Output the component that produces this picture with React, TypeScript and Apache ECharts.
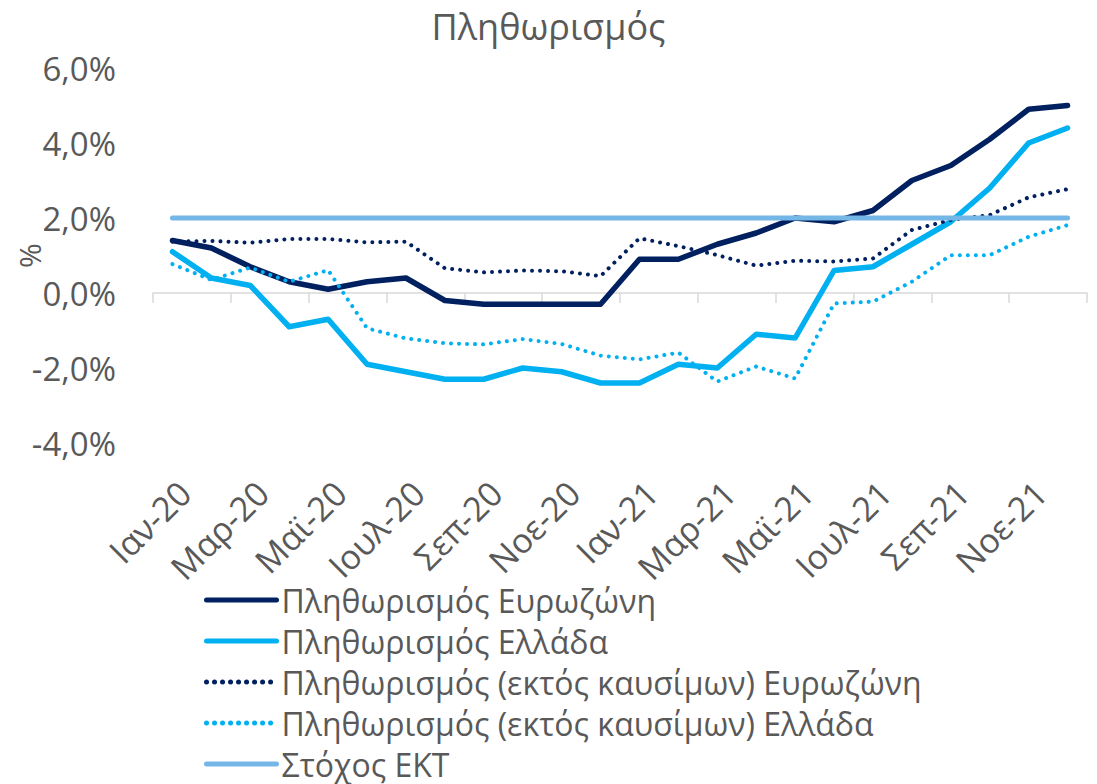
import React, { useEffect, useRef } from "react";
import * as echarts from "echarts";

const months = ["Ιαν", "Φεβ", "Μαρ", "Απρ", "Μαϊ", "Ιουν", "Ιουλ", "Αυγ", "Σεπ", "Οκτ", "Νοε", "Δεκ"];
const categories = [...months.map((m) => m + "-20"), ...months.map((m) => m + "-21")];

const inflationEZ = [1.4, 1.2, 0.7, 0.3, 0.1, 0.3, 0.4, -0.2, -0.3, -0.3, -0.3, -0.3, 0.9, 0.9, 1.3, 1.6, 2.0, 1.9, 2.2, 3.0, 3.4, 4.1, 4.9, 5.0];
const inflationGR = [1.1, 0.4, 0.2, -0.9, -0.7, -1.9, -2.1, -2.3, -2.3, -2.0, -2.1, -2.4, -2.4, -1.9, -2.0, -1.1, -1.2, 0.6, 0.7, 1.3, 1.9, 2.8, 4.0, 4.4];
const exFuelEZ = [1.37, 1.39, 1.34, 1.44, 1.44, 1.35, 1.37, 0.66, 0.55, 0.6, 0.58, 0.45, 1.46, 1.25, 1.01, 0.73, 0.86, 0.84, 0.92, 1.68, 1.95, 2.08, 2.55, 2.77];
const exFuelGR = [0.77, 0.35, 0.68, 0.3, 0.61, -0.94, -1.21, -1.34, -1.37, -1.23, -1.36, -1.67, -1.77, -1.59, -2.36, -1.96, -2.28, -0.28, -0.23, 0.3, 1.01, 1.01, 1.5, 1.81];
const ecbTarget = [2.0, 2.0, 2.0, 2.0, 2.0, 2.0, 2.0, 2.0, 2.0, 2.0, 2.0, 2.0, 2.0, 2.0, 2.0, 2.0, 2.0, 2.0, 2.0, 2.0, 2.0, 2.0, 2.0, 2.0];

const seriesNames = [
  "Πληθωρισμός Ευρωζώνη",
  "Πληθωρισμός Ελλάδα",
  "Πληθωρισμός (εκτός καυσίμων) Ευρωζώνη",
  "Πληθωρισμός (εκτός καυσίμων) Ελλάδα",
  "Στόχος ΕΚΤ",
];

const FONT = "'Open Sans', sans-serif";
const TXT = "#595959";
const NAVY = "#002060";
const CYAN = "#00B0F0";
const TARGET = "#74B6E6";

export default function App() {
  const ref = useRef<HTMLDivElement>(null);
  useEffect(() => {
    if (!ref.current) return;
    const chart = echarts.init(ref.current, undefined, { renderer: "svg" });
    const dotted = [0.01, 8];
    const mk = (name: string, data: number[], color: string, width: number, type: any) => ({
      name,
      type: "line",
      data,
      symbol: "none",
      showSymbol: false,
      xAxisIndex: 0,
      lineStyle: { color, width, type, cap: "round", join: "round" },
      itemStyle: { color },
      emphasis: { disabled: true },
    });
    chart.setOption({
      animation: false,
      backgroundColor: "#ffffff",
      title: {
        text: "Πληθωρισμός",
        left: "center",
        top: 3,
        textStyle: { fontFamily: FONT, fontSize: 36, fontWeight: "normal", color: TXT },
      },
      grid: { left: 153, right: 10, top: 68, bottom: 341, containLabel: false, outerBoundsMode: "none" },
      legend: {
        orient: "vertical",
        left: 199,
        top: 579,
        height: 260,
        itemWidth: 70,
        itemHeight: 14,
        itemGap: 9,
        data: seriesNames,
        selectedMode: false,
        textStyle: { fontFamily: FONT, fontSize: 32, color: TXT },
        lineStyle: { width: 5 },
        itemStyle: { color: "rgba(0,0,0,0)", opacity: 0, borderWidth: 0 },
      },
      xAxis: [
        {
          type: "category",
          data: categories,
          boundaryGap: true,
          axisLine: { onZero: true, lineStyle: { color: "#D9D9D9", width: 1.5 } },
          axisTick: { show: true, interval: 1, length: 10, lineStyle: { color: "#D9D9D9", width: 1.5 } },
          axisLabel: { show: false },
          splitLine: { show: false },
        },
        {
          type: "category",
          data: categories,
          boundaryGap: true,
          position: "bottom",
          axisLine: { show: false, onZero: false },
          axisTick: { show: false },
          axisLabel: {
            interval: 1,
            rotate: 45,
            margin: 32,
            verticalAlign: "top",
            align: "right",
            fontFamily: FONT,
            fontSize: 34,
            color: TXT,
          },
        },
      ],
      yAxis: {
        type: "value",
        min: -4,
        max: 6,
        interval: 2,
        name: "%",
        nameLocation: "middle",
        nameRotate: 90,
        nameGap: 109,
        nameMoveOverlap: false,
        nameTextStyle: { fontFamily: FONT, fontSize: 30, color: TXT },
        axisLine: { show: false },
        axisTick: { show: false },
        splitLine: { show: false },
        axisLabel: {
          margin: 37,
          fontFamily: FONT,
          fontSize: 33,
          color: TXT,
          formatter: (v: number) => v.toFixed(1).replace(".", ",") + "%",
        },
      },
      series: [
        mk(seriesNames[0], inflationEZ, NAVY, 5.5, "solid"),
        mk(seriesNames[1], inflationGR, CYAN, 5.5, "solid"),
        mk(seriesNames[2], exFuelEZ, NAVY, 4, dotted),
        mk(seriesNames[3], exFuelGR, CYAN, 4, dotted),
        mk(seriesNames[4], ecbTarget, TARGET, 5, "solid"),
      ],
    });
    return () => chart.dispose();
  }, []);
  return (
    <div
      ref={ref}
      style={{ position: "fixed", left: 0, top: 0, width: 1097, height: 784, background: "#fff" }}
    />
  );
}
